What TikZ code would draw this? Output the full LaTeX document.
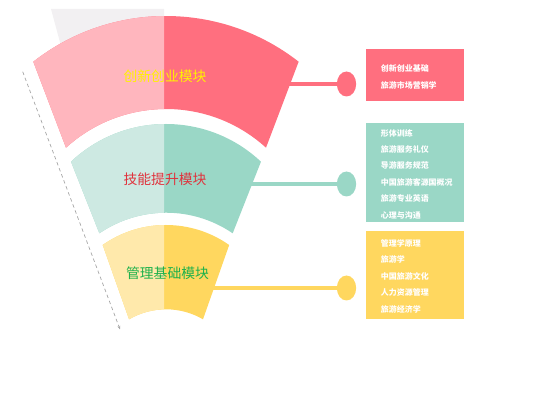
\documentclass[tikz,border=0pt]{standalone}
\usepackage{fontspec}
\newfontfamily\cjk{Noto Sans CJK SC}
\usetikzlibrary{arrows.meta,shapes.geometric}
\definecolor{pinkD}{HTML}{FF6F7F}
\definecolor{pinkL}{HTML}{FFB6BE}
\definecolor{tealD}{HTML}{9AD7C6}
\definecolor{tealL}{HTML}{CDE9E2}
\definecolor{yelD}{HTML}{FFD75F}
\definecolor{yelL}{HTML}{FFE9AB}
\definecolor{grayBg}{HTML}{F2F0F2}
\definecolor{titleRed}{HTML}{E0323C}
\definecolor{titleGreen}{HTML}{1DB14B}
\definecolor{titleYellow}{HTML}{FFF200}
\begin{document}
\begin{tikzpicture}[x=0.03cm,y=0.03cm,
  dot/.style={ellipse,minimum width=0.58cm,minimum height=0.75cm,inner sep=0pt,draw=none},
  link/.style={line width=3.4pt},
  listbox/.style={rectangle,minimum width=2.94cm,inner sep=0pt,draw=none},
  listtext/.style={anchor=west,inner sep=0pt,align=left,text=white,font=\cjk\bfseries\fontsize{6.8}{14.2}\selectfont},
  title/.style={inner sep=0pt,font=\cjk\fontsize{11.8}{12}\selectfont}]
\useasboundingbox (0,0) rectangle (560,400);
% gray background trapezoid
\fill[grayBg] (51,391) -- (164,391) -- (164,300) -- (75.6,300) -- cycle;
% dashed arrow
\coordinate (ds) at (22.7,328.3);
\coordinate (de) at (120,70.7);
\draw[gray!70,line width=0.6pt,dash pattern=on 3pt off 2.5pt,-{Stealth[length=3pt,width=2.5pt]}] (ds) -- (de);
% connector starts
\coordinate (s1) at (280,316);
\coordinate (s2) at (245,216);
\coordinate (s3) at (205,112);
% circles
\node[dot,fill=pinkD] (c1) at (346.5,316) {};
\node[dot,fill=tealD] (c2) at (346.5,216) {};
\node[dot,fill=yelD] (c3) at (346.5,112) {};
\draw[link,pinkD] (s1) -- (c1);
\draw[link,tealD] (s2) -- (c2);
\draw[link,yelD] (s3) -- (c3);
% pink band
\fill[pinkD] (33.3,338.3) arc[start angle=128,end angle=52,radius=215.5] -- (266,252.3) arc[start angle=47.7,end angle=132.3,radius=148.6] -- cycle;
\begin{scope}
\clip (0,0) rectangle (164,400);
\fill[pinkL] (33.3,338.3) arc[start angle=128,end angle=52,radius=215.5] -- (266,252.3) arc[start angle=47.7,end angle=132.3,radius=148.6] -- cycle;
\end{scope}
% teal band
\fill[tealD] (71,238.3) arc[start angle=133.3,end angle=46.7,radius=138.5] -- (232.7,166.7) arc[start angle=55.7,end angle=124.3,radius=118.3] -- cycle;
\begin{scope}
\clip (0,0) rectangle (164,400);
\fill[tealL] (71,238.3) arc[start angle=133.3,end angle=46.7,radius=138.5] -- (232.7,166.7) arc[start angle=55.7,end angle=124.3,radius=118.3] -- cycle;
\end{scope}
% yellow band
\fill[yelD] (102.7,155) arc[start angle=125.1,end angle=54.9,radius=110] -- (203,80.7) arc[start angle=59.8,end angle=120.2,radius=73.5] -- cycle;
\begin{scope}
\clip (0,0) rectangle (164,400);
\fill[yelL] (102.7,155) arc[start angle=125.1,end angle=54.9,radius=110] -- (203,80.7) arc[start angle=59.8,end angle=120.2,radius=73.5] -- cycle;
\end{scope}
% titles
\node[title,text=titleYellow] (t1) at (165,324) {创新创业模块};
\node[title,text=titleRed] (t2) at (165,220.7) {技能提升模块};
\node[title,text=titleGreen] (t3) at (167.5,126.7) {管理基础模块};
% boxes
\node[listbox,fill=pinkD,minimum height=1.56cm] (b1) at (414.5,325) {};
\node[listbox,fill=tealD,minimum height=2.97cm] (b2) at (415,227.8) {};
\node[listbox,fill=yelD,minimum height=2.65cm] (b3) at (415,124.85) {};
\node[listtext] (l1) at (380.7,323) {创新创业基础\\旅游市场营销学};
\node[listtext,font=\cjk\bfseries\fontsize{6.8}{14}\selectfont] (l2) at (380.7,226) {形体训练\\旅游服务礼仪\\导游服务规范\\中国旅游客源国概况\\旅游专业英语\\心理与沟通};
\node[listtext,font=\cjk\bfseries\fontsize{6.8}{14.1}\selectfont] (l3) at (380.7,124) {管理学原理\\旅游学\\中国旅游文化\\人力资源管理\\旅游经济学};
\end{tikzpicture}
\end{document}
